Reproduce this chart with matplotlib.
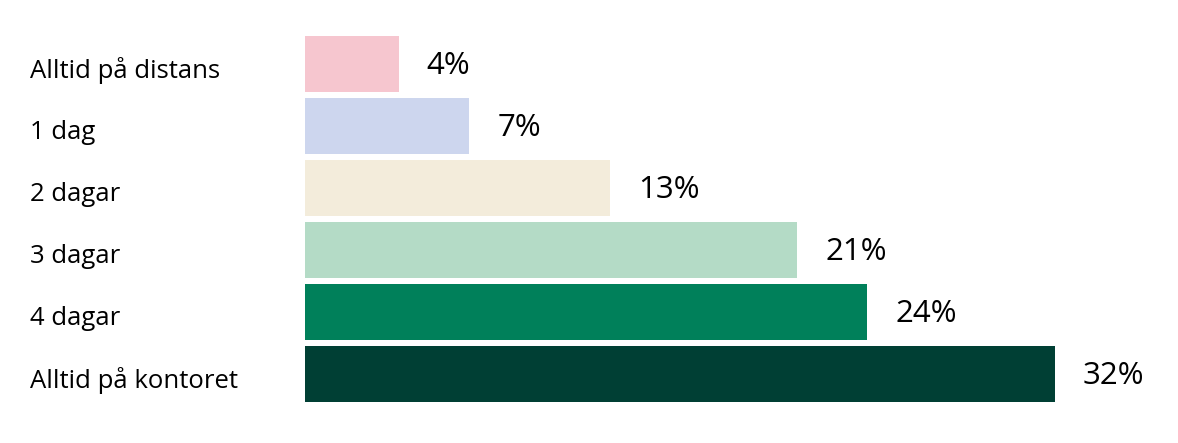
import matplotlib.pyplot as plt
import matplotlib.transforms as mtransforms

kategorier = ['Alltid på distans', '1 dag', '2 dagar', '3 dagar', '4 dagar', 'Alltid på kontoret']
andel = [4, 7, 13, 21, 24, 32]
etiketter = ['4%', '7%', '13%', '21%', '24%', '32%']
farger = ['#f6c6cf', '#cdd6ee', '#f3ecdb', '#b4dbc6', '#00805a', '#003f34']

plt.rcParams['font.family'] = ['Open Sans', 'DejaVu Sans']

fig = plt.figure(figsize=(11.78, 4.43), dpi=100)
ax = fig.add_axes([305/1178, 38/443, 867/1178, 372/443])

pos = list(range(len(kategorier)))
ax.barh(pos, andel, height=0.9, color=farger)
ax.set_xlim(0, 37)
ax.set_ylim(5.5, -0.5)
ax.axis('off')

# procentetiketter efter staplarna
for p, v, t in zip(pos, andel, etiketter):
    ax.text(v + 1.2, p + 0.04, t, va='center', ha='left', fontsize=22.5, color='black')

# kategorinamn, vänsterjusterade i figurens kant
trans = mtransforms.blended_transform_factory(fig.transFigure, ax.transData)
for p, k in zip(pos, kategorier):
    ax.text(30/1178, p + 0.1, k, transform=trans, va='center', ha='left', fontsize=18.5, color='black')

fig.savefig('out.png', dpi=100, facecolor='white')
